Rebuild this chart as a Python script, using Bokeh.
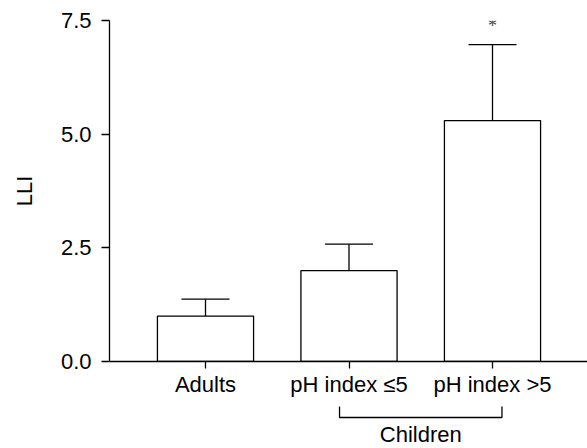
from bokeh.plotting import figure
from bokeh.layouts import column
from bokeh.models import FixedTicker, NumeralTickFormatter, Range1d, LinearAxis
from bokeh.embed import file_html
from bokeh.resources import INLINE
from bokeh.core.properties import value

# ---- data ----
categories = ["Adults", "pH index \u22645", "pH index >5"]
means = [1.0, 2.0, 5.3]
errors = [0.37, 0.58, 1.67]
y_ticks = [0.0, 2.5, 5.0, 7.5]
y_label = "LLI"
group_label = "Children"
group_members = [1, 2]
signif = ["", "", "*"]

# ---- layout ----
W, H = 587, 448
FRAME_LEFT, FRAME_TOP, ZERO_PX = 109, 20, 361
SPLIT_PX = 401                      # page row where upper figure ends
CAT_PX = [205, 348.5, 492]
Y_TOP = 7.5
ppu_y = (ZERO_PX - FRAME_TOP) / Y_TOP
ppu_x = (CAT_PX[1] - CAT_PX[0])
x_start = -(CAT_PX[0] - FRAME_LEFT) / ppu_x
x_end = (W - CAT_PX[0]) / ppu_x
split_y = -(SPLIT_PX - ZERO_PX) / ppu_y
bottom_y = -(H - ZERO_PX) / ppu_y

FONT = "Liberation Sans"
FS = "22px"
LW = 1.3

xs = list(range(len(categories)))
xr = Range1d(x_start, x_end)

# ================= upper figure (bars) =================
p = figure(width=W, height=SPLIT_PX, x_range=xr, y_range=(0, Y_TOP),
           x_axis_type=None, output_backend="svg", toolbar_location=None,
           min_border_left=FRAME_LEFT, min_border_right=0, min_border_top=FRAME_TOP,
           min_border_bottom=SPLIT_PX - ZERO_PX)
p.outline_line_color = None
p.grid.visible = False

ax = p.yaxis[0]
ax.bounds = (0, Y_TOP)
ax.ticker = FixedTicker(ticks=y_ticks)
ax.formatter = NumeralTickFormatter(format="0.0")
ax.minor_tick_line_color = None
ax.major_tick_in = 0
ax.major_tick_out = 8
ax.major_label_standoff = 10
ax.axis_line_width = LW
ax.major_tick_line_width = LW
ax.axis_line_color = "black"
ax.major_tick_line_color = "black"
ax.major_label_text_font = FONT
ax.major_label_text_font_size = FS
ax.major_label_text_color = "black"
ax.axis_label = y_label
ax.axis_label_text_font = FONT
ax.axis_label_text_font_size = FS
ax.axis_label_text_font_style = "normal"
ax.axis_label_text_color = "black"
ax.axis_label_standoff = 21

# x axis with category labels
xax = LinearAxis(ticker=FixedTicker(ticks=xs),
                 major_label_overrides={x: c for x, c in zip(xs, categories)},
                 major_label_text_font=FONT, major_label_text_font_size=FS,
                 major_label_text_color="black", major_label_standoff=3,
                 major_tick_in=0, major_tick_out=7, minor_tick_line_color=None,
                 axis_line_width=LW, major_tick_line_width=LW,
                 axis_line_color="black", major_tick_line_color="black")
p.add_layout(xax, "below")

# bars
p.vbar(x=xs, top=means, bottom=0, width=0.67, fill_color="white",
       line_color="black", line_width=LW)

# error bars (upper only)
uppers = [m + e for m, e in zip(means, errors)]
p.segment(x0=xs, y0=means, x1=xs, y1=uppers, line_color="black", line_width=LW)
cap = 0.335 / 2
p.segment(x0=[x - cap for x in xs], y0=uppers, x1=[x + cap for x in xs], y1=uppers,
          line_color="black", line_width=LW)

# significance marker
p.text(x=xs, y=uppers, text=signif, text_align="center", text_baseline="alphabetic",
       y_offset=-19, text_font=value("Liberation Serif"), text_font_size="18px",
       text_color="#444444")

# ================= lower strip (group bracket) =================
q = figure(width=W, height=H - SPLIT_PX, x_range=xr, y_range=(bottom_y, split_y),
           x_axis_type=None, y_axis_type=None, output_backend="svg",
           toolbar_location=None, min_border_left=FRAME_LEFT, min_border_right=0,
           min_border_top=0, min_border_bottom=0)
q.outline_line_color = None
q.grid.visible = False

g0 = xs[group_members[0]] - 0.066
g1 = xs[group_members[1]] + 0.066
b_top = -45 / ppu_y
b_bot = -56 / ppu_y
q.multi_line(xs=[[g0, g0, g1, g1]], ys=[[b_top, b_bot, b_bot, b_top]],
             line_color="black", line_width=LW)
gc = (xs[group_members[0]] + xs[group_members[1]]) / 2
q.text(x=[gc], y=[-73 / ppu_y], text=[group_label], text_align="center",
       text_baseline="alphabetic", text_font=value(FONT),
       text_font_size=FS, text_color="black")

layout = column(p, q, spacing=0)
open("out.html", "w").write(file_html(layout, INLINE))
